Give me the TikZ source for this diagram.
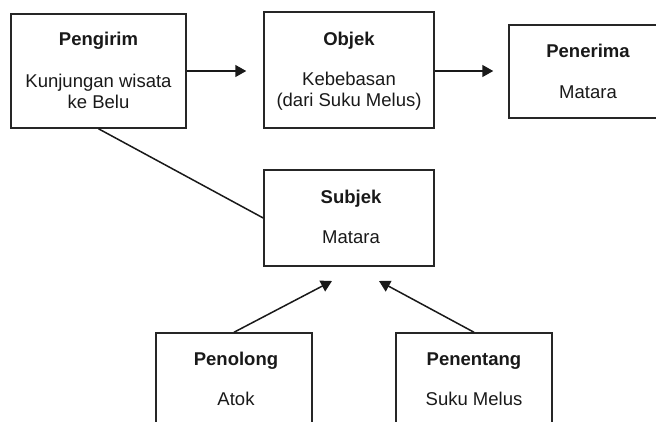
\documentclass[tikz,border=0pt]{standalone}
\usepackage{fontspec}
\setmainfont{Liberation Sans}
\usetikzlibrary{arrows.meta}
\tikzset{
  box/.style={draw=black!85, line width=1.5pt, rectangle, inner sep=0pt},
  lbl/.style={anchor=base, inner sep=0pt, text=black!90, font=\fontsize{18.5}{21}\selectfont},
  ttl/.style={lbl, font=\fontsize{18.5}{21}\selectfont\bfseries},
  conn/.style={draw=black!90, line width=1.5pt},
  arr/.style={conn, -{Triangle[length=11pt,width=12pt]}}
}
\begin{document}
\begin{tikzpicture}[x=1pt,y=-1pt]
\useasboundingbox (0,0) rectangle (656,421);
\clip (0,0) rectangle (656,421);
% boxes
\node[box, minimum width=175pt, minimum height=114pt] (pengirim) at (98.5,71) {};
\node[box, minimum width=170pt, minimum height=116pt] (objek) at (349,70) {};
\node[box, minimum width=158pt, minimum height=93pt] (penerima) at (588,71.5) {};
\node[box, minimum width=170pt, minimum height=96pt] (subjek) at (349,218) {};
\node[box, minimum width=156pt, minimum height=110pt] (penolong) at (234,388) {};
\node[box, minimum width=156pt, minimum height=110pt] (penentang) at (474,388) {};
% texts
\node[ttl] (t1) at (98.5,45) {Pengirim};
\node[lbl] (t1a) at (98.5,87) {Kunjungan wisata};
\node[lbl] (t1b) at (98.5,108) {ke Belu};
\node[ttl] (t2) at (349,45) {Objek};
\node[lbl] (t2a) at (349,85) {Kebebasan};
\node[lbl] (t2b) at (349,106) {(dari Suku Melus)};
\node[ttl] (t3) at (588,57) {Penerima};
\node[lbl] (t3a) at (588,98) {Matara};
\node[ttl] (t4) at (351,203) {Subjek};
\node[lbl] (t4a) at (351,243) {Matara};
\node[ttl] (t5) at (236,365) {Penolong};
\node[lbl] (t5a) at (236,405.5) {Atok};
\node[ttl] (t6) at (474,365) {Penentang};
\node[lbl] (t6a) at (474,405.5) {Suku Melus};
% connectors
\coordinate (tipL) at (332,281);
\coordinate (tipR) at (379,281);
\draw[arr, shorten >=17pt] (pengirim.east |- 0,71) -- (objek.west |- 0,71);
\draw[arr, shorten >=15pt] (objek.east |- 0,71) -- (penerima.west |- 0,71);
\draw[conn] (pengirim.south) -- (subjek.west);
\draw[arr] (penolong.north) -- (tipL);
\draw[arr] (penentang.north) -- (tipR);
\end{tikzpicture}
\end{document}
